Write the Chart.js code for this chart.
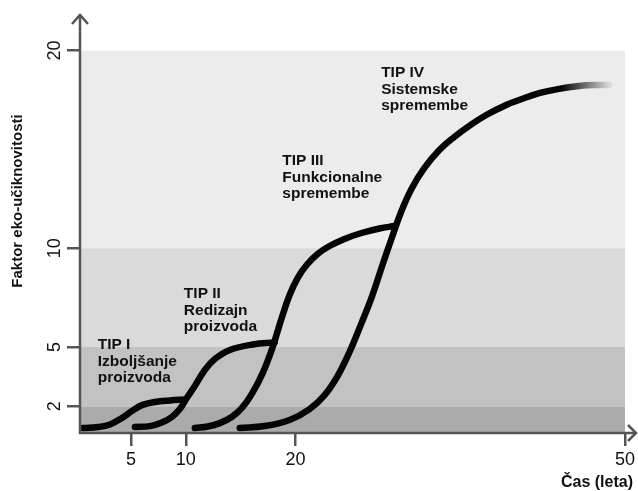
<!DOCTYPE html>
<html>
<head>
<meta charset="utf-8">
<script src="https://cdn.jsdelivr.net/npm/chart.js@4/dist/chart.umd.min.js"></script>
<style>
  body { margin: 0; background: #fff; }
</style>
</head>
<body>
<canvas id="myChart" width="638" height="491"></canvas>
<script>
// curves (x = leta, y = faktor)
const tip1X = [0.64, 2.0, 3.09, 4.18, 5.09, 6.0, 7.18, 8.55, 9.91];
const tip1Y = [0.90, 0.95, 1.08, 1.41, 1.76, 2.06, 2.22, 2.30, 2.35];
const tip2X = [5.36, 6.73, 7.82, 8.73, 9.45, 10.09, 10.82, 11.73, 12.64, 14.0, 16.09, 18.09];
const tip2Y = [0.95, 1.0, 1.18, 1.46, 1.86, 2.42, 3.03, 3.84, 4.39, 4.85, 5.13, 5.23];
const tip3X = [10.82, 12.0, 13.09, 14.18, 15.09, 16.0, 17.0, 17.91, 18.73, 19.45, 20.18, 21.0, 22.0, 23.09, 24.45, 26.0, 27.64, 29.0];
const tip3Y = [0.90, 0.98, 1.15, 1.46, 1.91, 2.62, 3.68, 5.0, 6.47, 7.63, 8.49, 9.15, 9.71, 10.11, 10.47, 10.77, 11.0, 11.12];
const tip4X = [14.91, 17.18, 19.45, 21.27, 22.64, 23.82, 24.91, 26.0, 27.0, 27.91, 28.82, 29.64, 30.55, 31.73, 33.09, 34.45, 35.82, 37.36, 39.18, 40.36, 42.18, 44.0, 45.82, 47.64, 48.55];
const tip4Y = [0.90, 1.0, 1.31, 1.86, 2.57, 3.53, 4.75, 6.21, 7.63, 9.15, 10.62, 11.88, 13.0, 14.06, 14.97, 15.63, 16.19, 16.74, 17.25, 17.50, 17.85, 18.06, 18.21, 18.26, 18.26];

const xTicks = [5, 10, 20, 50];
const yTicks = [2, 5, 10, 20];
const bandEdges = [2, 5, 10, 20];

const labelTexts = [
    ['TIP I', 'Izboljšanje', 'proizvoda'],
    ['TIP II', 'Redizajn', 'proizvoda'],
    ['TIP III', 'Funkcionalne', 'spremembe'],
    ['TIP IV', 'Sistemske', 'spremembe']
];
// anchor of each label (left edge, first baseline) in axis units
const labelAnchors = [[1.97, 4.88], [9.82, 7.47], [18.79, 14.2], [27.79, 18.65]];

const bandColors = ['#ababab', '#c2c2c2', '#dadada', '#ececec'];

const toPoints = (xs, ys) => xs.map((x, i) => ({x: x, y: ys[i]}));

const lineStyle = {
    showLine: true,
    borderColor: '#050505',
    borderWidth: 6.5,
    borderCapStyle: 'round',
    borderJoinStyle: 'round',
    pointRadius: 0,
    tension: 0.4,
    clip: 8
};

const decor = {
    id: 'decor',
    beforeDraw(chart) {
        const {ctx, chartArea: a, scales: {y}} = chart;
        ctx.save();
        const edges = [y.min].concat(bandEdges);
        for (let i = 0; i < bandColors.length; i++) {
            const top = y.getPixelForValue(edges[i + 1]);
            const bot = y.getPixelForValue(edges[i]);
            ctx.fillStyle = bandColors[i];
            ctx.fillRect(a.left, top, a.right - a.left, bot - top);
        }
        ctx.restore();
    },
    afterDatasetsDraw(chart) {
        const {ctx, chartArea: a, scales: {x, y}} = chart;
        ctx.save();
        // axes with arrows
        ctx.strokeStyle = '#555';
        ctx.lineWidth = 2.5;
        ctx.beginPath();
        ctx.moveTo(a.left, a.top);
        ctx.lineTo(a.left, a.bottom);
        ctx.lineTo(a.right + 11, a.bottom);
        ctx.stroke();
        ctx.beginPath();
        ctx.moveTo(a.left - 8, a.top + 9);
        ctx.lineTo(a.left, a.top);
        ctx.lineTo(a.left + 8, a.top + 9);
        ctx.moveTo(a.right + 3, a.bottom - 8);
        ctx.lineTo(a.right + 11, a.bottom);
        ctx.lineTo(a.right + 3, a.bottom + 8);
        ctx.stroke();

        // type labels
        ctx.fillStyle = '#111';
        ctx.font = 'bold 15.5px "Liberation Sans", Arial, sans-serif';
        ctx.textAlign = 'left';
        ctx.textBaseline = 'alphabetic';
        labelTexts.forEach((lines, i) => {
            const px = x.getPixelForValue(labelAnchors[i][0]);
            const py = y.getPixelForValue(labelAnchors[i][1]);
            lines.forEach((t, j) => ctx.fillText(t, px, py + j * 16.5));
        });

        // axis titles
        ctx.font = 'bold 15px "Liberation Sans", Arial, sans-serif';
        ctx.save();
        ctx.translate(18, 201);
        ctx.rotate(-Math.PI / 2);
        ctx.textAlign = 'center';
        ctx.textBaseline = 'middle';
        ctx.fillText('Faktor eko-učiknovitosti', 0, 0);
        ctx.restore();
        ctx.font = 'bold 16px "Liberation Sans", Arial, sans-serif';
        ctx.textAlign = 'right';
        ctx.fillText('Čas (leta)', 633, 487);
        ctx.restore();
    }
};

const data = {
    datasets: [
        Object.assign({data: toPoints(tip1X, tip1Y)}, lineStyle),
        Object.assign({data: toPoints(tip2X, tip2Y)}, lineStyle),
        Object.assign({data: toPoints(tip3X, tip3Y)}, lineStyle),
        Object.assign({data: toPoints(tip4X, tip4Y)}, lineStyle, {
            // the last curve fades out at its right end
            borderColor: function (context) {
                const chart = context.chart;
                if (!chart.chartArea) return '#050505';
                const x = chart.scales.x;
                const g = chart.ctx.createLinearGradient(x.getPixelForValue(44.2), 0, x.getPixelForValue(48.6), 0);
                g.addColorStop(0, 'rgba(5,5,5,1)');
                g.addColorStop(1, 'rgba(5,5,5,0.08)');
                return g;
            }
        })
    ]
};

const config = {
    type: 'scatter',
    data: data,
    options: {
        responsive: false,
        animation: false,
        events: [],
        layout: {
            padding: {top: 15, right: 12, left: 0, bottom: 0}
        },
        scales: {
            x: {
                type: 'linear',
                min: 0.36,
                max: 50,
                afterBuildTicks: (scale) => { scale.ticks = xTicks.map(v => ({value: v})); },
                afterFit: (scale) => { scale.height = 58; },
                border: {display: false},
                grid: {drawOnChartArea: false, drawTicks: true, tickLength: 13, color: '#555', lineWidth: 2.5},
                ticks: {
                    padding: 3,
                    color: '#111',
                    font: {family: '"Liberation Sans", Arial, sans-serif', size: 18},
                    maxRotation: 0
                }
            },
            y: {
                type: 'linear',
                min: 0.65,
                max: 21.8,
                afterBuildTicks: (scale) => { scale.ticks = yTicks.map(v => ({value: v})); },
                afterFit: (scale) => { scale.width = 80; },
                border: {display: false},
                grid: {drawOnChartArea: false, drawTicks: true, tickLength: 13, color: '#555', lineWidth: 2.5},
                ticks: {
                    padding: 2,
                    color: '#111',
                    minRotation: 90,
                    maxRotation: 90,
                    crossAlign: 'center',
                    font: {family: '"Liberation Sans", Arial, sans-serif', size: 18}
                }
            }
        },
        plugins: {
            legend: {display: false},
            tooltip: {enabled: false}
        }
    },
    plugins: [decor]
};

new Chart(document.getElementById('myChart'), config);
</script>
</body>
</html>
